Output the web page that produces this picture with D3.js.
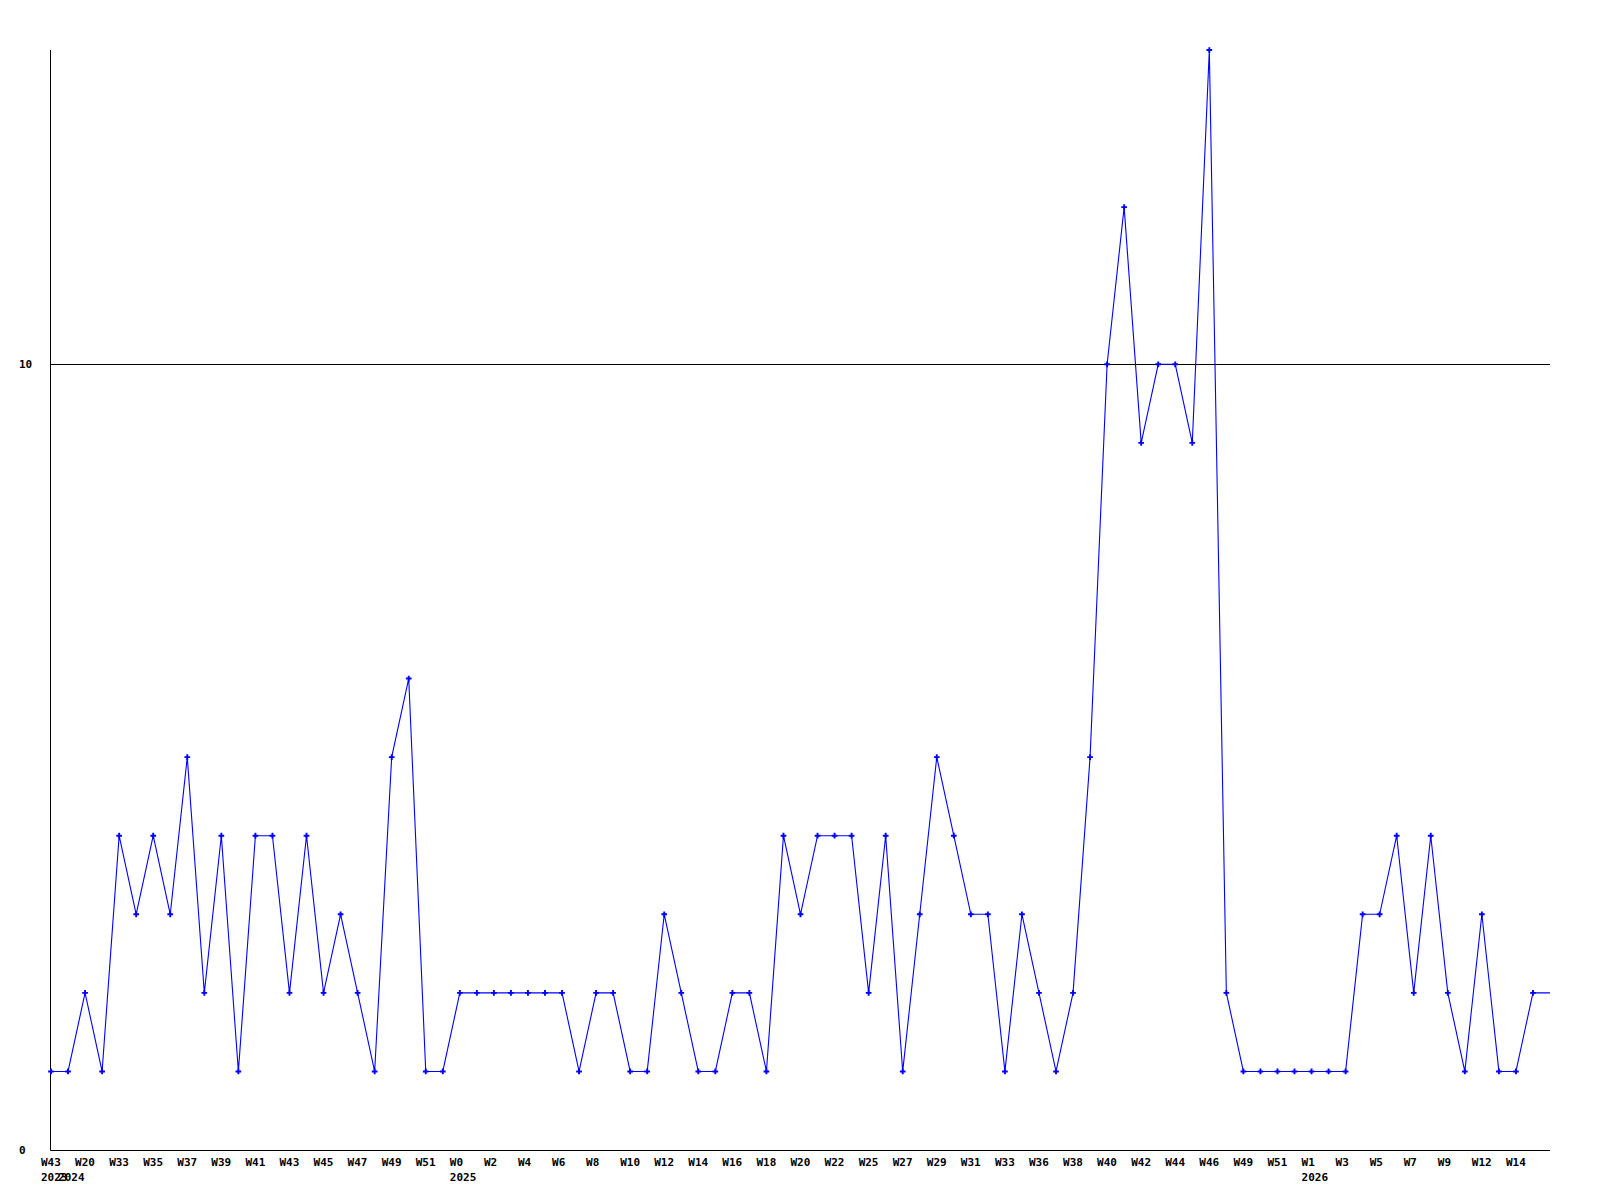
<!DOCTYPE html>
<html>
<head>
<meta charset="utf-8">
<script src="https://cdn.jsdelivr.net/npm/d3@7"></script>
<style>
  html, body { margin: 0; padding: 0; background: #fff; }
  svg { display: block; }
  text { font-family: "DejaVu Sans Mono", "Liberation Mono", monospace; font-weight: bold; font-size: 11px; fill: #000; }
</style>
</head>
<body>
<svg id="chart" width="1600" height="1200"></svg>
<script>
// Weekly values, one per point (88 points)
const values = [
  1, 1, 2, 1, 4, 3, 4, 3, 5, 2,
  4, 1, 4, 4, 2, 4, 2, 3, 2, 1,
  5, 6, 1, 1, 2, 2, 2, 2, 2, 2,
  2, 1, 2, 2, 1, 1, 3, 2, 1, 1,
  2, 2, 1, 4, 3, 4, 4, 4, 2, 4,
  1, 3, 5, 4, 3, 3, 1, 3, 2, 1,
  2, 5, 10, 12, 9, 10, 10, 9, 14, 2,
  1, 1, 1, 1, 1, 1, 1, 3, 3, 4,
  2, 4, 2, 1, 3, 1, 1, 2
];
// Week labels shown on every second point
const weekLabels = [
  "W43", "W20", "W33", "W35", "W37", "W39", "W41", "W43", "W45", "W47",
  "W49", "W51", "W0", "W2", "W4", "W6", "W8", "W10", "W12", "W14",
  "W16", "W18", "W20", "W22", "W25", "W27", "W29", "W31", "W33", "W36",
  "W38", "W40", "W42", "W44", "W46", "W49", "W51", "W1", "W3", "W5",
  "W7", "W9", "W12", "W14"
];
// Year labels and the point index where they appear
const yearLabels = ["2023", "2024", "2025", "2026"];
const yearIndex = [0, 1, 24, 74];
// Y axis tick labels
const yTicks = [0, 10];

const svg = d3.select("#chart");
const n = values.length;
const x = d3.scaleLinear().domain([0, n]).range([51, 1550]);
const y = d3.scaleLinear().domain([0, 14]).range([1150, 50]);

// gridline at 10 and axes
svg.append("g").selectAll("line.grid").data(yTicks.filter(d => d !== 0)).join("line")
  .attr("x1", x(0)).attr("x2", x(n))
  .attr("y1", d => Math.round(y(d)) + 0.5).attr("y2", d => Math.round(y(d)) + 0.5)
  .attr("stroke", "#000").attr("stroke-width", 1);

svg.append("line")
  .attr("x1", x(0) - 0.5).attr("x2", x(0) - 0.5)
  .attr("y1", y(14)).attr("y2", y(0) + 0.5)
  .attr("stroke", "#000");
svg.append("line")
  .attr("x1", x(0) - 0.5).attr("x2", x(n))
  .attr("y1", Math.round(y(0)) + 0.5).attr("y2", Math.round(y(0)) + 0.5)
  .attr("stroke", "#000");

// y labels
svg.append("g").selectAll("text").data(yTicks).join("text")
  .attr("x", 19).attr("y", d => y(d)).attr("dy", "0.35em")
  .text(d => d);

// x labels
svg.append("g").selectAll("text").data(weekLabels).join("text")
  .attr("x", (d, i) => x(i * 2) - 10).attr("y", 1162).attr("dy", "0.35em")
  .text(d => d);
svg.append("g").selectAll("text").data(yearLabels).join("text")
  .attr("x", (d, i) => x(yearIndex[i]) - 10).attr("y", 1177).attr("dy", "0.35em")
  .text(d => d);

// line (extends to right edge with last value)
const linePts = values.map((v, i) => [x(i), y(v)]);
linePts.push([x(n), y(values[n - 1])]);
svg.append("path")
  .attr("d", d3.line()(linePts))
  .attr("fill", "none").attr("stroke", "#0000ff").attr("stroke-width", 1.1);

// markers
svg.append("g").selectAll("path").data(values).join("path")
  .attr("transform", (d, i) => `translate(${x(i)},${y(d)})`)
  .attr("d", d3.symbol(d3.symbolCross, 18))
  .attr("fill", "#0000ff");
</script>
</body>
</html>
